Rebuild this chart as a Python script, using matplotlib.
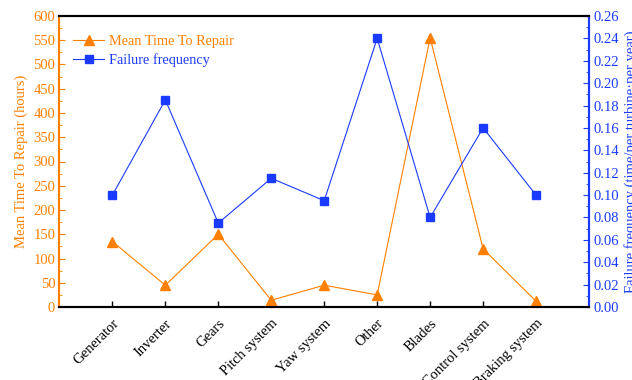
import matplotlib.pyplot as plt
from matplotlib.ticker import MultipleLocator

plt.rcParams['font.family'] = ['Liberation Serif', 'DejaVu Serif']

components = ['Generator', 'Inverter', 'Gears', 'Pitch system', 'Yaw system',
              'Other', 'Blades', 'Control system', 'Braking system']
mttr_hours = [135, 45, 150, 14, 45, 25, 555, 120, 12]
failure_freq = [0.10, 0.185, 0.075, 0.115, 0.095, 0.24, 0.08, 0.16, 0.10]

orange = '#FF8000'
blue = '#1A3BFF'
x = list(range(1, len(components) + 1))

fig, ax = plt.subplots(figsize=(6.32, 3.80), dpi=100)
fig.subplots_adjust(left=0.094, right=0.932, top=0.958, bottom=0.192)
ax2 = ax.twinx()

l1, = ax.plot(x, mttr_hours, color=orange, lw=0.8, marker='^', ms=7.5,
              label='Mean Time To Repair', zorder=3)
l2, = ax2.plot(x, failure_freq, color=blue, lw=0.8, marker='s', ms=6,
               label='Failure frequency', zorder=3)

ax.set_xlim(0, 10)
ax.set_ylim(0, 600)
ax2.set_ylim(0, 0.26)
ax.set_xticks(x)
ax.set_xticklabels(components, rotation=45, ha='right', rotation_mode='anchor',
                   fontsize=10.5)
ax.tick_params(axis='x', direction='in', length=4, width=1, pad=7)

# left axis: repair time in hours
ax.yaxis.set_major_locator(MultipleLocator(50))
ax.yaxis.set_minor_locator(MultipleLocator(25))
ax.tick_params(axis='y', which='both', direction='in', colors=orange, labelsize=10.5, pad=3)
ax.tick_params(axis='y', which='major', length=4)
ax.tick_params(axis='y', which='minor', length=2)

# right axis: failure frequency
ax2.yaxis.set_major_locator(MultipleLocator(0.02))
ax2.yaxis.set_minor_locator(MultipleLocator(0.01))
ax2.yaxis.set_major_formatter(lambda v, p: f'{v:.2f}')
ax2.tick_params(axis='y', which='both', direction='in', colors=blue, labelsize=10.5, pad=3)
ax2.tick_params(axis='y', which='major', length=4)
ax2.tick_params(axis='y', which='minor', length=2)

ax.set_ylabel('Mean Time To Repair (hours)', color=orange, fontsize=10.5, labelpad=4)
ax2.set_ylabel('Failure frequency (time/per turbine·per year)', color=blue,
               fontsize=10.5, labelpad=4)

for a in (ax, ax2):
    a.spines['left'].set_color(orange)
    a.spines['right'].set_color(blue)
    for side in ('left', 'right', 'top', 'bottom'):
        a.spines[side].set_linewidth(1.5)

leg = ax.legend([l1, l2], ['Mean Time To Repair', 'Failure frequency'],
                loc='upper left', bbox_to_anchor=(0, 0.982), frameon=False,
                fontsize=10.3, handlelength=2.2, handletextpad=0.3,
                borderaxespad=0.55, labelspacing=0.4)
for txt, c in zip(leg.get_texts(), (orange, blue)):
    txt.set_color(c)

fig.savefig('out.png', dpi=100)
